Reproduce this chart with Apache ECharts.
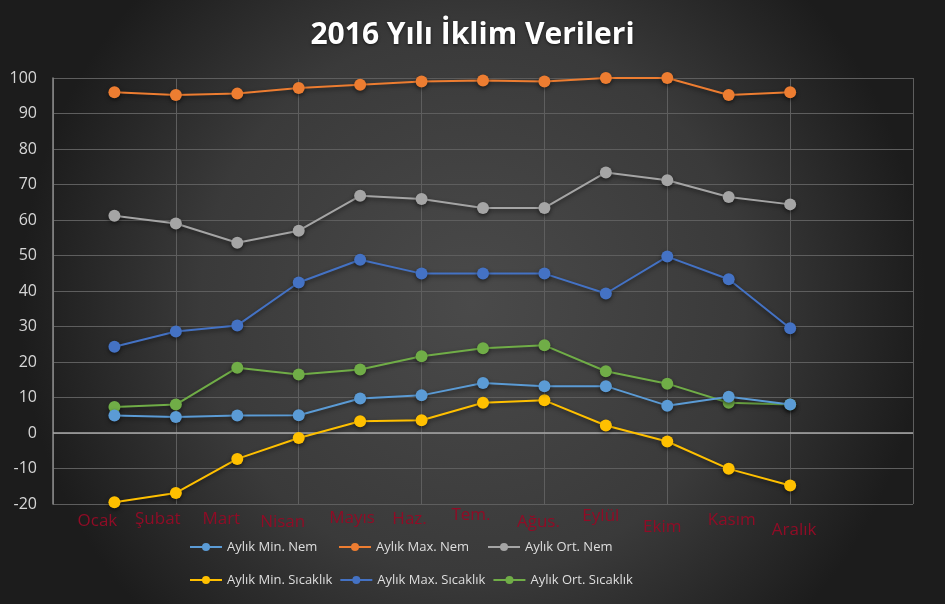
<!DOCTYPE html>
<html><head><meta charset="utf-8">
<script src="https://cdn.jsdelivr.net/npm/echarts@6/dist/echarts.min.js"></script>
<style>html,body{margin:0;padding:0;background:#2a2a2a}#c{width:945px;height:604px}</style>
</head><body><div id="c"></div>
<script>
const months = ['Ocak','Şubat','Mart','Nisan','Mayıs','Haz.','Tem.','Ağus.','Eylül','Ekim','Kasım','Aralık'];
const seriesNames = ['Aylık Min. Nem','Aylık Max. Nem','Aylık Ort. Nem','Aylık Min. Sıcaklık','Aylık Max. Sıcaklık','Aylık Ort. Sıcaklık'];
const minNem = [4.9, 4.5, 4.9, 5.0, 9.7, 10.6, 14.1, 13.2, 13.2, 7.7, 10.2, 8.0];
const maxNem = [96.0, 95.2, 95.6, 97.2, 98.1, 99.0, 99.3, 99.0, 100, 100, 95.2, 96.0];
const ortNem = [61.2, 59.0, 53.6, 57.0, 66.8, 65.9, 63.4, 63.4, 73.4, 71.2, 66.5, 64.4];
const minSic = [-19.5, -16.9, -7.3, -1.4, 3.3, 3.6, 8.5, 9.2, 2.1, -2.4, -10.1, -14.8];
const maxSic = [24.3, 28.6, 30.3, 42.4, 48.8, 44.9, 44.9, 44.9, 39.3, 49.7, 43.3, 29.5];
const ortSic = [7.3, 8.0, 18.4, 16.5, 17.9, 21.6, 23.9, 24.7, 17.4, 13.9, 8.5, 8.0];
const yTicks = {min: -20, max: 100, step: 10};
const colors = ['#5B9BD5','#ED7D31','#A5A5A5','#FFC000','#4472C4','#70AD47'];
const values = [minNem, maxNem, ortNem, minSic, maxSic, ortSic];

// x axis: one empty slot before the months and two after (Excel-like span)
const xCats = [''].concat(months, ['', '']);
// per-label offsets [dx, dy] (Excel placed these labels individually)
const labelShift = [[-17,6.5],[-18,4.5],[-16,4.5],[-16,7.5],[-8,3.5],[-12,4.5],[-12,0.5],[-6,7.5],[-5,1.5],[-5,12.5],[3,5.5],[4,15.5]];
const rich = {};
labelShift.forEach((s,i)=>{
  const dx=s[0], dy=s[1];
  rich['m'+i] = {fontSize:17, fontFamily:'Open Sans', color:'#900c26',
    padding:[dy, dx<0?-2*dx:0, 0, dx>0?2*dx:0]};
});

const chart = echarts.init(document.getElementById('c'), null, {renderer:'canvas'});
const series = seriesNames.map((n,i)=>{
  const s = {
    name:n, type:'line', data:[null].concat(values[i]),
    symbol:'circle', symbolSize:12, z: 10 - i,
    lineStyle:{width:2, color:colors[i], shadowColor:'rgba(0,0,0,0.5)', shadowBlur:4, shadowOffsetY:2},
    itemStyle:{color:colors[i], shadowColor:'rgba(0,0,0,0.5)', shadowBlur:4, shadowOffsetY:2},
    emphasis:{disabled:true}, animation:false
  };
  if(i===0){
    s.markLine = {silent:true, symbol:'none', label:{show:false},
      lineStyle:{color:'#a8a8a8', type:'solid', width:1.5}, data:[{yAxis:0}], animation:false};
  }
  return s;
});

chart.setOption({
  backgroundColor:{type:'radial', x:0.5, y:0.5, r:0.75,
    colorStops:[{offset:0,color:'#4a4a4a'},{offset:0.6,color:'#3a3a3a'},{offset:1,color:'#1c1c1c'}]},
  color: colors,
  title:{text:'2016 Yılı İklim Verileri', left:'center', top:15,
    textStyle:{color:'#ffffff', fontSize:30, fontWeight:'bold', fontFamily:'Open Sans',
      textShadowColor:'rgba(0,0,0,0.6)', textShadowBlur:3, textShadowOffsetY:1}},
  grid:{left:53, right:32, top:78, bottom:100, containLabel:false},
  xAxis:{type:'category', data:xCats, boundaryGap:false,
    axisLine:{show:false, onZero:false}, axisTick:{show:false},
    axisLabel:{interval:0, margin:2, formatter:(v,idx)=> v ? '{m'+(idx-1)+'|'+v+'}' : '', rich:rich},
    splitLine:{show:true, interval:(idx)=> idx%2===0, lineStyle:{color:'#5e5e5e', width:1}}},
  yAxis:{type:'value', min:yTicks.min, max:yTicks.max, interval:yTicks.step,
    axisLine:{show:true, lineStyle:{color:'#8a8a8a', width:1.5}}, axisTick:{show:false},
    axisLabel:{color:'#d6d6d6', fontSize:16, fontFamily:'Open Sans', margin:16},
    splitLine:{lineStyle:{color:'#5e5e5e', width:1}}},
  legend:{left:184, top:529, width:470, itemWidth:32, itemHeight:10, itemGap:7,
    textStyle:{color:'#dedede', fontSize:13, fontFamily:'Open Sans', width:104, lineHeight:26, overflow:'none'},
    data:seriesNames},
  series: series
});
</script></body></html>
